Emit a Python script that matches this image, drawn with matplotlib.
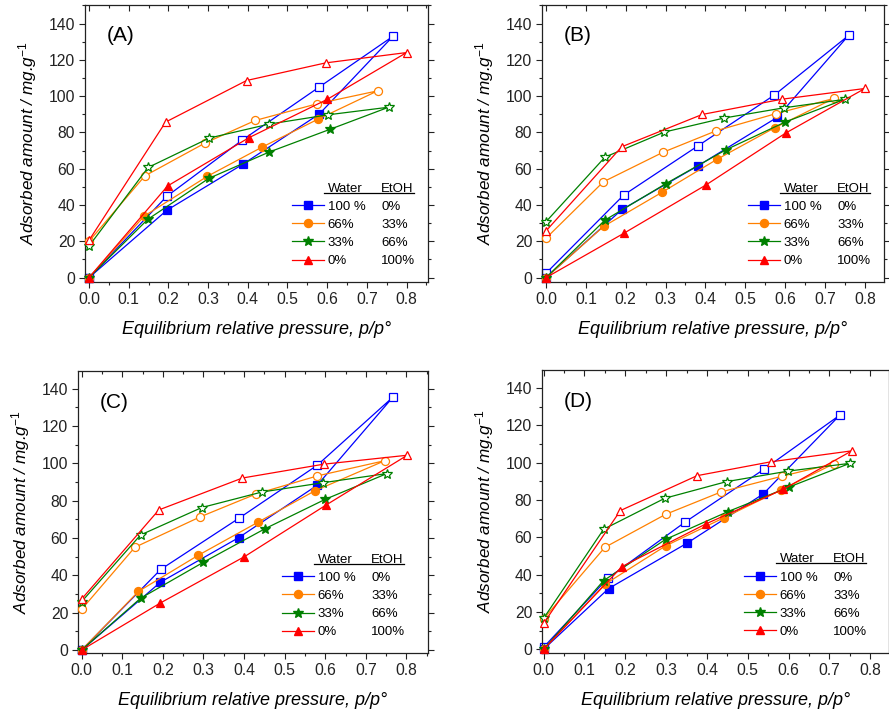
import matplotlib
matplotlib.use('Agg')
import matplotlib.pyplot as plt
from matplotlib.lines import Line2D
from matplotlib.ticker import MultipleLocator, FixedLocator

plt.rcParams['font.family'] = ['Liberation Sans', 'DejaVu Sans']
plt.rcParams['mathtext.fontset'] = 'custom'
plt.rcParams['mathtext.it'] = 'Liberation Sans:italic'
plt.rcParams['mathtext.rm'] = 'Liberation Sans'

# ---------------- data ----------------
series_colors = ['#0000FF', '#FF8000', '#008000', '#FF0000']
series_markers = ['s', 'o', '*', '^']
water_labels = ['100 %', '66%', '33%', '0%']
etoh_labels = ['0%', '33%', '66%', '100%']
panel_names = ['(A)', '(B)', '(C)', '(D)']
x_tick_values = [0.0, 0.1, 0.2, 0.3, 0.4, 0.5, 0.6, 0.7, 0.8]
y_tick_values = [0, 20, 40, 60, 80, 100, 120, 140]

# series order: 100% water (blue), 66% (orange), 33% (green), 0% (red)
# Panel A
A_ads_p = [[0, 0.196, 0.387, 0.58],
           [0, 0.139, 0.298, 0.436, 0.576],
           [0, 0.148, 0.302, 0.454, 0.607],
           [0, 0.198, 0.403, 0.60]]
A_ads_v = [[0, 37.1, 62.4, 90.1],
           [0, 33.9, 55.8, 71.9, 87.2],
           [0, 32.1, 54.7, 69.2, 81.7],
           [0, 50.5, 77.1, 98.2]]
A_des_p = [[0.766, 0.58, 0.385, 0.196, 0],
           [0.727, 0.575, 0.419, 0.292, 0.141, 0],
           [0.755, 0.602, 0.454, 0.303, 0.149, 0],
           [0.80, 0.596, 0.397, 0.193, 0]]
A_des_v = [[133.0, 105.0, 75.6, 44.8, 0],
           [102.9, 95.8, 86.6, 74.1, 56.1, 20.0],
           [93.9, 89.7, 84.6, 76.9, 60.7, 17.4],
           [124.0, 118.3, 108.6, 85.7, 20.5]]

# Panel B
B_ads_p = [[0, 0.191, 0.382, 0.58],
           [0, 0.145, 0.291, 0.43, 0.574],
           [0, 0.148, 0.30, 0.452, 0.60],
           [0, 0.195, 0.401, 0.601]]
B_ads_v = [[0, 37.6, 61.7, 88.3],
           [0, 28.3, 47.0, 65.3, 82.6],
           [0, 31.7, 51.7, 70.5, 85.7],
           [0, 24.4, 51.0, 79.6]]
B_des_p = [[0.759, 0.573, 0.382, 0.195, 0],
           [0.722, 0.576, 0.427, 0.293, 0.144, 0],
           [0.749, 0.598, 0.446, 0.297, 0.148, 0],
           [0.80, 0.592, 0.392, 0.19, 0]]
B_des_v = [[133.4, 100.6, 72.7, 45.5, 2.4],
           [98.7, 90.3, 80.9, 69.0, 52.8, 21.7],
           [98.2, 93.6, 87.9, 80.2, 66.4, 30.8],
           [104.2, 98.3, 89.9, 72.1, 25.7]]

# Panel C
C_ads_p = [[0, 0.194, 0.387, 0.58],
           [0, 0.14, 0.287, 0.434, 0.574],
           [0, 0.145, 0.30, 0.452, 0.60],
           [0, 0.194, 0.401, 0.601]]
C_ads_v = [[0, 36.3, 60.2, 88.2],
           [0, 31.4, 50.7, 68.4, 85.2],
           [0, 27.7, 47.0, 65.0, 80.7],
           [0, 25.2, 50.0, 77.5]]
C_des_p = [[0.767, 0.58, 0.387, 0.195, 0],
           [0.747, 0.58, 0.43, 0.292, 0.131, 0],
           [0.752, 0.595, 0.444, 0.296, 0.145, 0],
           [0.802, 0.596, 0.396, 0.19, 0]]
C_des_v = [[135.5, 98.9, 70.5, 43.2, 0],
           [101.4, 93.2, 83.6, 71.3, 55.0, 21.8],
           [94.5, 89.6, 84.6, 76.3, 61.6, 25.9],
           [104.3, 99.5, 92.1, 75.0, 27.3]]

# Panel D
D_ads_p = [[0, 0.159, 0.351, 0.538],
           [0, 0.15, 0.299, 0.441, 0.582],
           [0, 0.147, 0.299, 0.452, 0.60],
           [0, 0.192, 0.397, 0.587]]
D_ads_v = [[0, 32.5, 56.8, 83.2],
           [0, 34.8, 55.4, 70.4, 85.4],
           [0, 36.8, 58.9, 73.8, 86.8],
           [0, 44.3, 67.1, 85.7]]
D_des_p = [[0.726, 0.539, 0.347, 0.157, 0],
           [0.712, 0.584, 0.435, 0.299, 0.15, 0],
           [0.75, 0.598, 0.448, 0.297, 0.147, 0],
           [0.755, 0.556, 0.376, 0.188, 0]]
D_des_v = [[125.5, 96.3, 68.2, 38.0, 1.1],
           [99.5, 92.7, 84.3, 72.3, 54.6, 16.3],
           [99.6, 95.4, 89.8, 80.9, 64.3, 16.6],
           [106.3, 100.4, 93.0, 74.3, 13.9]]

# ---------------- layout ----------------
W, H = 889, 714
fig = plt.figure(figsize=(W / 100, H / 100), dpi=100)

def px_rect(left, top, right, bottom):
    return [left / W, (H - bottom) / H, (right - left) / W, (bottom - top) / H]

panels = [
    dict(data=(A_ads_p, A_ads_v, A_des_p, A_des_v), rect=px_rect(85, 5, 428, 282),
         xlim=(-0.010, 0.854), ylim=(-2.4, 150.2), leg=(0.6035, 0.360)),
    dict(data=(B_ads_p, B_ads_v, B_des_p, B_des_v), rect=px_rect(542, 5, 884, 282),
         xlim=(-0.010, 0.848), ylim=(-2.4, 150.2), leg=(0.602, 0.360)),
    dict(data=(C_ads_p, C_ads_v, C_des_p, C_des_v), rect=px_rect(78, 371, 428, 653),
         xlim=(-0.009, 0.853), ylim=(-1.6, 149.4), leg=(0.583, 0.353)),
    dict(data=(D_ads_p, D_ads_v, D_des_p, D_des_v), rect=px_rect(542, 370, 889, 653),
         xlim=(-0.004, 0.846), ylim=(-2.0, 149.6), leg=(0.582, 0.353)),
]

msizes = {'s': 5.3, 'o': 5.8, '*': 7.8, '^': 6.3}
lw = 0.9
legends = []
for k, pan in enumerate(panels):
    ax = fig.add_axes(pan['rect'])
    ads_p, ads_v, des_p, des_v = pan['data']
    for i in range(4):
        c = series_colors[i]
        m = series_markers[i]
        ax.plot(list(ads_p[i]) + list(des_p[i]), list(ads_v[i]) + list(des_v[i]),
                color=c, lw=lw, zorder=2 + i, clip_on=False)
        ax.plot(des_p[i], des_v[i], linestyle='none', marker=m, ms=msizes[m],
                mfc='white', mec=c, mew=0.9, zorder=2 + i, clip_on=False)
        ax.plot(ads_p[i], ads_v[i], linestyle='none', marker=m, ms=msizes[m],
                mfc=c, mec=c, mew=0.9, zorder=2 + i, clip_on=False)
    ax.set_xlim(*pan['xlim'])
    ax.set_ylim(*pan['ylim'])
    ax.xaxis.set_major_locator(FixedLocator(x_tick_values))
    ax.set_xticklabels([f'{v:.1f}' for v in x_tick_values])
    ax.xaxis.set_minor_locator(MultipleLocator(0.05))
    ax.yaxis.set_major_locator(FixedLocator(y_tick_values))
    ax.set_yticklabels([str(v) for v in y_tick_values])
    ax.yaxis.set_minor_locator(MultipleLocator(10))
    ax.tick_params(which='both', labelsize=11.3, width=0.8, colors='#222222')
    ax.tick_params(which='major', length=4.5, pad=2.5)
    ax.tick_params(which='minor', length=2.5)
    ax.tick_params(which='both', bottom=True, left=True, top=True, right=True,
                   direction='out')
    # top / right ticks inward
    for t in ax.xaxis.get_major_ticks() + ax.xaxis.get_minor_ticks():
        t.tick2line.set_marker(3)
    for t in ax.yaxis.get_major_ticks() + ax.yaxis.get_minor_ticks():
        t.tick2line.set_marker(1)
    for sp in ax.spines.values():
        sp.set_linewidth(0.9)
        sp.set_color('#222222')
    ax.set_xlabel('Equilibrium relative pressure, p/p\u00b0', fontsize=13,
                  style='italic', labelpad=10)
    ax.set_ylabel('Adsorbed amount / mg.g$^{-1}$', fontsize=12.3, style='italic',
                  labelpad=7)
    ax.text(0.063, 0.89, panel_names[k], transform=ax.transAxes, fontsize=15,
            ha='left', va='center')

    empty = Line2D([], [], linestyle='', marker='')
    handles = [empty]
    for i in range(4):
        handles.append(Line2D([], [], color=series_colors[i], lw=lw,
                              marker=series_markers[i], ms=msizes[series_markers[i]],
                              mfc=series_colors[i], mec=series_colors[i]))
    handles += [empty] * 5
    labels = ['Water'] + water_labels + ['EtOH'] + etoh_labels
    leg = ax.legend(handles, labels, ncol=2, loc='upper left',
                    bbox_to_anchor=pan['leg'], bbox_transform=ax.transAxes,
                    frameon=False, fontsize=9.5, handlelength=2.4,
                    handletextpad=0.3, labelspacing=0.45, columnspacing=-1.5,
                    borderpad=0, borderaxespad=0, numpoints=1)
    legends.append(leg)

fig.canvas.draw()
renderer = fig.canvas.get_renderer()
for leg in legends:
    texts = leg.get_texts()
    t_w = [t for t in texts if t.get_text() == 'Water'][0]
    t_e = [t for t in texts if t.get_text() == 'EtOH'][0]
    bw = t_w.get_window_extent(renderer)
    be = t_e.get_window_extent(renderer)
    x0 = bw.x0 - 4
    x1 = be.x1
    y = bw.y0 + 2
    fig.add_artist(Line2D([x0 / W, x1 / W], [y / H, y / H], color='black',
                          lw=0.9, transform=fig.transFigure))

fig.savefig('out.png', dpi=100)
